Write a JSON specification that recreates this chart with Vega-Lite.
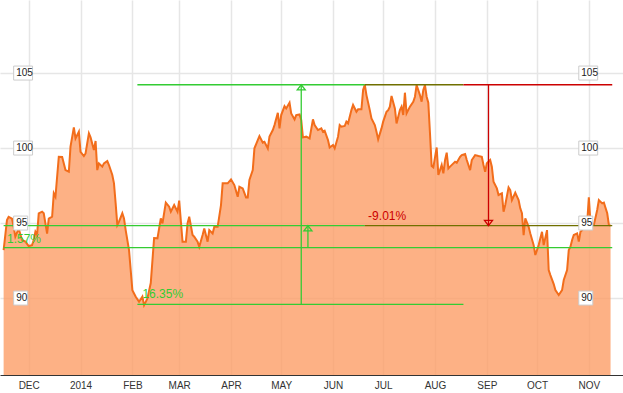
{
  "$schema": "https://vega.github.io/schema/vega-lite/v6.json",
  "width": 623,
  "height": 375,
  "autosize": {"type": "none"},
  "padding": {"top": 0, "left": 0, "right": 0, "bottom": 18},
  "config": {"view": {"stroke": null}, "font": "Liberation Sans"},
  "datasets": {
    "price": [
      {"d":"2013-11-16","v":93.2},{"d":"2013-11-18","v":95.2},{"d":"2013-11-19","v":95.42},{"d":"2013-11-21","v":95.3},{"d":"2013-11-22","v":94.75},{"d":"2013-11-23","v":94.1},{"d":"2013-11-25","v":94.64},{"d":"2013-11-27","v":93.87},{"d":"2013-11-29","v":93.76},
      {"d":"2013-12-01","v":93.47},{"d":"2013-12-03","v":93.53},{"d":"2013-12-04","v":93.87},{"d":"2013-12-05","v":94.42},{"d":"2013-12-06","v":94.2},{"d":"2013-12-07","v":95.65},{"d":"2013-12-09","v":95.76},{"d":"2013-12-10","v":95.65},{"d":"2013-12-12","v":94.3},{"d":"2013-12-13","v":95.3},{"d":"2013-12-15","v":95.42},{"d":"2013-12-16","v":96.98},{"d":"2013-12-17","v":96.75},{"d":"2013-12-19","v":99.42},{"d":"2013-12-21","v":99.4},{"d":"2013-12-23","v":98.53},{"d":"2013-12-25","v":98.42},{"d":"2013-12-26","v":100.09},{"d":"2013-12-28","v":101.38},{"d":"2013-12-29","v":100.64},{"d":"2013-12-31","v":101.09},
      {"d":"2014-01-01","v":99.75},{"d":"2014-01-03","v":99.47},{"d":"2014-01-04","v":99.64},{"d":"2014-01-06","v":100.98},{"d":"2014-01-07","v":100.71},{"d":"2014-01-09","v":99.87},{"d":"2014-01-10","v":100.47},{"d":"2014-01-11","v":98.53},{"d":"2014-01-12","v":98.98},{"d":"2014-01-14","v":98.76},{"d":"2014-01-15","v":98.98},{"d":"2014-01-17","v":99.13},{"d":"2014-01-18","v":98.87},{"d":"2014-01-20","v":98.2},{"d":"2014-01-21","v":97.65},{"d":"2014-01-22","v":96.31},{"d":"2014-01-23","v":94.87},{"d":"2014-01-24","v":95.09},{"d":"2014-01-26","v":95.65},{"d":"2014-01-27","v":95.31},{"d":"2014-01-28","v":94.53},{"d":"2014-01-30","v":93.2},{"d":"2014-01-31","v":91.87},
      {"d":"2014-02-01","v":90.53},{"d":"2014-02-03","v":90.09},{"d":"2014-02-05","v":89.75},{"d":"2014-02-07","v":90.09},{"d":"2014-02-08","v":89.53},{"d":"2014-02-10","v":89.98},{"d":"2014-02-12","v":91.0},{"d":"2014-02-14","v":94.0},{"d":"2014-02-16","v":93.98},{"d":"2014-02-18","v":95.31},{"d":"2014-02-19","v":94.98},{"d":"2014-02-21","v":96.36},{"d":"2014-02-23","v":96.09},{"d":"2014-02-24","v":95.76},{"d":"2014-02-26","v":96.2},{"d":"2014-02-28","v":95.76},
      {"d":"2014-03-01","v":96.49},{"d":"2014-03-03","v":93.76},{"d":"2014-03-05","v":93.76},{"d":"2014-03-06","v":94.98},{"d":"2014-03-07","v":95.42},{"d":"2014-03-09","v":94.2},{"d":"2014-03-10","v":94.09},{"d":"2014-03-12","v":93.76},{"d":"2014-03-13","v":93.42},{"d":"2014-03-15","v":94.2},{"d":"2014-03-16","v":94.64},{"d":"2014-03-18","v":93.76},{"d":"2014-03-19","v":94.53},{"d":"2014-03-21","v":94.3},{"d":"2014-03-22","v":94.75},{"d":"2014-03-24","v":94.75},{"d":"2014-03-26","v":96.2},{"d":"2014-03-27","v":97.65},{"d":"2014-03-30","v":97.65},
      {"d":"2014-04-01","v":97.91},{"d":"2014-04-03","v":97.53},{"d":"2014-04-05","v":96.75},{"d":"2014-04-06","v":97.42},{"d":"2014-04-08","v":97.31},{"d":"2014-04-10","v":96.71},{"d":"2014-04-11","v":96.71},{"d":"2014-04-12","v":97.87},{"d":"2014-04-14","v":98.53},{"d":"2014-04-15","v":99.98},{"d":"2014-04-17","v":100.53},{"d":"2014-04-18","v":100.8},{"d":"2014-04-20","v":100.36},{"d":"2014-04-21","v":100.42},{"d":"2014-04-23","v":99.98},{"d":"2014-04-24","v":100.76},{"d":"2014-04-26","v":101.2},{"d":"2014-04-27","v":101.53},{"d":"2014-04-29","v":102.35},{"d":"2014-04-30","v":101.31},
      {"d":"2014-05-01","v":102.2},{"d":"2014-05-03","v":102.8},{"d":"2014-05-04","v":102.64},{"d":"2014-05-06","v":103.02},{"d":"2014-05-07","v":102.31},{"d":"2014-05-09","v":101.91},{"d":"2014-05-10","v":102.2},{"d":"2014-05-12","v":102.24},{"d":"2014-05-13","v":101.87},{"d":"2014-05-14","v":100.71},{"d":"2014-05-16","v":100.76},{"d":"2014-05-18","v":100.64},{"d":"2014-05-20","v":101.91},{"d":"2014-05-21","v":101.53},{"d":"2014-05-23","v":101.2},{"d":"2014-05-25","v":101.31},{"d":"2014-05-26","v":101.09},{"d":"2014-05-27","v":101.16},{"d":"2014-05-29","v":100.53},{"d":"2014-05-30","v":100.04},
      {"d":"2014-06-01","v":100.2},{"d":"2014-06-02","v":99.98},{"d":"2014-06-04","v":100.76},{"d":"2014-06-05","v":101.53},{"d":"2014-06-06","v":101.42},{"d":"2014-06-08","v":101.47},{"d":"2014-06-09","v":101.76},{"d":"2014-06-10","v":101.64},{"d":"2014-06-12","v":102.53},{"d":"2014-06-13","v":102.87},{"d":"2014-06-15","v":102.42},{"d":"2014-06-16","v":102.58},{"d":"2014-06-18","v":102.58},{"d":"2014-06-19","v":103.87},{"d":"2014-06-20","v":104.22},{"d":"2014-06-21","v":103.53},{"d":"2014-06-23","v":102.53},{"d":"2014-06-24","v":101.98},{"d":"2014-06-26","v":101.53},{"d":"2014-06-27","v":101.09},{"d":"2014-06-28","v":100.58},{"d":"2014-06-30","v":101.31},
      {"d":"2014-07-01","v":101.76},{"d":"2014-07-03","v":102.42},{"d":"2014-07-04","v":102.53},{"d":"2014-07-05","v":102.76},{"d":"2014-07-06","v":103.47},{"d":"2014-07-08","v":102.64},{"d":"2014-07-09","v":101.64},{"d":"2014-07-11","v":102.53},{"d":"2014-07-12","v":102.76},{"d":"2014-07-13","v":102.2},{"d":"2014-07-14","v":103.69},{"d":"2014-07-15","v":102.31},{"d":"2014-07-17","v":102.76},{"d":"2014-07-19","v":103.09},{"d":"2014-07-20","v":103.42},{"d":"2014-07-21","v":104.2},{"d":"2014-07-23","v":103.53},{"d":"2014-07-24","v":103.09},{"d":"2014-07-25","v":103.87},{"d":"2014-07-26","v":104.2},{"d":"2014-07-27","v":103.42},{"d":"2014-07-28","v":103.02},{"d":"2014-07-29","v":100.98},{"d":"2014-07-30","v":98.8},{"d":"2014-07-31","v":98.71},
      {"d":"2014-08-02","v":100.04},{"d":"2014-08-03","v":98.2},{"d":"2014-08-04","v":98.53},{"d":"2014-08-05","v":98.87},{"d":"2014-08-06","v":98.31},{"d":"2014-08-07","v":99.2},{"d":"2014-08-08","v":99.69},{"d":"2014-08-09","v":98.64},{"d":"2014-08-10","v":98.76},{"d":"2014-08-12","v":98.98},{"d":"2014-08-13","v":99.09},{"d":"2014-08-14","v":99.02},{"d":"2014-08-16","v":99.42},{"d":"2014-08-17","v":99.53},{"d":"2014-08-19","v":99.6},{"d":"2014-08-20","v":99.2},{"d":"2014-08-22","v":98.53},{"d":"2014-08-23","v":99.2},{"d":"2014-08-25","v":99.53},{"d":"2014-08-27","v":99.47},{"d":"2014-08-29","v":99.42},{"d":"2014-08-30","v":98.87},{"d":"2014-08-31","v":98.42},
      {"d":"2014-09-01","v":98.98},{"d":"2014-09-03","v":99.2},{"d":"2014-09-04","v":98.76},{"d":"2014-09-05","v":97.75},{"d":"2014-09-07","v":97.31},{"d":"2014-09-08","v":96.87},{"d":"2014-09-10","v":96.98},{"d":"2014-09-11","v":95.76},{"d":"2014-09-12","v":96.2},{"d":"2014-09-14","v":97.38},{"d":"2014-09-15","v":97.2},{"d":"2014-09-16","v":96.53},{"d":"2014-09-18","v":97.02},{"d":"2014-09-20","v":96.53},{"d":"2014-09-21","v":95.98},{"d":"2014-09-22","v":95.65},{"d":"2014-09-23","v":94.2},{"d":"2014-09-24","v":95.31},{"d":"2014-09-26","v":94.75},{"d":"2014-09-27","v":94.31},{"d":"2014-09-29","v":93.53},{"d":"2014-09-30","v":92.87},
      {"d":"2014-10-02","v":93.53},{"d":"2014-10-03","v":93.98},{"d":"2014-10-04","v":94.42},{"d":"2014-10-05","v":93.53},{"d":"2014-10-07","v":94.53},{"d":"2014-10-08","v":91.87},{"d":"2014-10-09","v":91.53},{"d":"2014-10-11","v":90.93},{"d":"2014-10-12","v":90.53},{"d":"2014-10-14","v":90.2},{"d":"2014-10-16","v":90.53},{"d":"2014-10-17","v":91.2},{"d":"2014-10-19","v":91.87},{"d":"2014-10-20","v":93.2},{"d":"2014-10-21","v":93.42},{"d":"2014-10-22","v":93.87},{"d":"2014-10-23","v":94.2},{"d":"2014-10-25","v":94.31},{"d":"2014-10-26","v":93.76},{"d":"2014-10-27","v":94.42},{"d":"2014-10-28","v":94.53},{"d":"2014-10-30","v":94.87},{"d":"2014-10-31","v":94.98},
      {"d":"2014-11-01","v":96.71},{"d":"2014-11-02","v":94.98},{"d":"2014-11-03","v":94.87},{"d":"2014-11-04","v":94.87},{"d":"2014-11-06","v":95.87},{"d":"2014-11-07","v":96.53},{"d":"2014-11-09","v":96.31},{"d":"2014-11-10","v":96.36},{"d":"2014-11-12","v":95.65},{"d":"2014-11-13","v":94.87},{"d":"2014-11-14","v":94.83}
    ],
    "segs": [
      {"a":"2014-02-04","b":"2014-06-20","lo":104.22,"hi":104.22,"k":"g"},
      {"a":"2014-06-20","b":"2014-08-18","lo":104.22,"hi":104.22,"k":"o"},
      {"a":"2014-08-18","b":"2014-11-15","lo":104.22,"hi":104.22,"k":"r"},
      {"a":"2014-02-04","b":"2014-08-18","lo":89.58,"hi":89.58,"k":"g"},
      {"a":"2013-11-16","b":"2014-06-20","lo":94.83,"hi":94.83,"k":"g"},
      {"a":"2014-06-20","b":"2014-11-15","lo":94.83,"hi":94.83,"k":"o"},
      {"a":"2013-11-16","b":"2014-11-15","lo":93.36,"hi":93.36,"k":"g"},
      {"a":"2014-05-13","b":"2014-05-13","lo":89.58,"hi":104.22,"k":"g"},
      {"a":"2014-05-17","b":"2014-05-17","lo":93.36,"hi":94.83,"k":"g"},
      {"a":"2014-09-02","b":"2014-09-02","lo":94.83,"hi":104.22,"k":"r"}
    ],
    "heads": [
      {"a":"2014-05-13","y":104.22,"k":"g","dir":"u"},
      {"a":"2014-05-17","y":94.83,"k":"g","dir":"u"},
      {"a":"2014-09-02","y":94.83,"k":"r","dir":"d"}
    ],
    "notes": [
      {"a":"2013-11-18","y":93.95,"t":"1.57%","k":"g"},
      {"a":"2014-02-07","y":90.27,"t":"16.35%","k":"g"},
      {"a":"2014-06-22","y":95.47,"t":"-9.01%","k":"r"}
    ],
    "ylab": [{"v":90},{"v":95},{"v":100},{"v":105}]
  },
  "layer": [
    {
      "data": {"name": "price"},
      "mark": {"type": "area", "fill": "#fc9d66", "fillOpacity": 0.8, "line": {"color": "#f26d1b", "strokeWidth": 2}},
      "encoding": {
        "x": {"field": "d", "type": "temporal", "title": null,
          "scale": {"domain": [{"year":2013,"month":11,"date":13,"hours":20}, {"year":2014,"month":11,"date":21,"hours":10,"minutes":30}]},
          "axis": {"title": null, "ticks": false, "grid": true, "gridColor": "#e6e6e6", "gridWidth": 1.5,
            "domainColor": "#333333", "domainWidth": 1, "labelFontSize": 10, "labelColor": "#333333", "labelPadding": 5,
            "labelFlush": false, "labelOverlap": false,
            "values": [{"year":2013,"month":12,"date":1},{"year":2014,"month":1,"date":1},{"year":2014,"month":2,"date":1},{"year":2014,"month":3,"date":1},{"year":2014,"month":4,"date":1},{"year":2014,"month":5,"date":1},{"year":2014,"month":6,"date":1},{"year":2014,"month":7,"date":1},{"year":2014,"month":8,"date":1},{"year":2014,"month":9,"date":1},{"year":2014,"month":10,"date":1},{"year":2014,"month":11,"date":1}],
            "labelExpr": "month(datum.value) == 0 ? timeFormat(datum.value, '%Y') : upper(timeFormat(datum.value, '%b'))"}},
        "y": {"field": "v", "type": "quantitative", "title": null,
          "scale": {"domain": [84.87, 109.87], "zero": false, "nice": false},
          "axis": {"title": null, "labels": false, "ticks": false, "domain": false, "grid": true, "gridColor": "#e6e6e6", "gridWidth": 1.5, "values": [90, 95, 100, 105]}},
        "y2": {"datum": 84.87}
      }
    },
    {
      "data": {"name": "segs"},
      "mark": {"type": "rule", "strokeWidth": 1.3},
      "encoding": {
        "x": {"field": "a", "type": "temporal", "title": null},
        "x2": {"field": "b"},
        "y": {"field": "lo", "type": "quantitative", "title": null},
        "y2": {"field": "hi"},
        "color": {"field": "k", "type": "nominal", "scale": {"domain": ["g", "r", "o"], "range": ["#33cc33", "#cc0000", "#707000"]}, "legend": null}
      }
    },
    {
      "data": {"name": "heads"},
      "mark": {"type": "point", "filled": false, "strokeWidth": 1.3, "size": 16, "opacity": 1},
      "encoding": {
        "x": {"field": "a", "type": "temporal", "title": null},
        "y": {"field": "y", "type": "quantitative", "title": null},
        "shape": {"field": "dir", "type": "nominal", "scale": {"domain": ["u", "d"], "range": ["M0,0L2,2.6L-2,2.6Z", "M0,0L2,-2.6L-2,-2.6Z"]}, "legend": null},
        "color": {"field": "k", "type": "nominal", "legend": null}
      }
    },
    {
      "data": {"name": "notes"},
      "mark": {"type": "text", "align": "left", "baseline": "middle", "fontSize": 12, "font": "Liberation Sans"},
      "encoding": {
        "x": {"field": "a", "type": "temporal", "title": null},
        "y": {"field": "y", "type": "quantitative", "title": null},
        "text": {"field": "t"},
        "color": {"field": "k", "type": "nominal", "legend": null}
      }
    },
    {
      "data": {"name": "ylab"},
      "mark": {"type": "point", "filled": true, "fill": "white", "stroke": "#cccccc", "strokeWidth": 1, "size": 196, "opacity": 1},
      "encoding": {
        "x": {"datum": {"year": 2013, "month": 11, "date": 22}, "type": "temporal", "title": null},
        "y": {"field": "v", "type": "quantitative", "title": null},
        "shape": {"condition": {"test": "datum.v >= 100", "value": "M0,-1H2.7V1H0Z"}, "value": "M0,-1H2V1H0Z"}
      }
    },
    {
      "data": {"name": "ylab"},
      "mark": {"type": "text", "align": "left", "baseline": "middle", "fontSize": 10, "xOffset": 2.5, "color": "#222222", "font": "Liberation Sans"},
      "encoding": {
        "x": {"datum": {"year": 2013, "month": 11, "date": 22}, "type": "temporal", "title": null},
        "y": {"field": "v", "type": "quantitative", "title": null},
        "text": {"field": "v"}
      }
    },
    {
      "data": {"name": "ylab"},
      "mark": {"type": "point", "filled": true, "fill": "white", "stroke": "#cccccc", "strokeWidth": 1, "size": 196, "opacity": 1},
      "encoding": {
        "x": {"datum": {"year": 2014, "month": 10, "date": 26}, "type": "temporal", "title": null},
        "y": {"field": "v", "type": "quantitative", "title": null},
        "shape": {"condition": {"test": "datum.v >= 100", "value": "M0,-1H2.7V1H0Z"}, "value": "M0,-1H2V1H0Z"}
      }
    },
    {
      "data": {"name": "ylab"},
      "mark": {"type": "text", "align": "left", "baseline": "middle", "fontSize": 10, "xOffset": 2.5, "color": "#222222", "font": "Liberation Sans"},
      "encoding": {
        "x": {"datum": {"year": 2014, "month": 10, "date": 26}, "type": "temporal", "title": null},
        "y": {"field": "v", "type": "quantitative", "title": null},
        "text": {"field": "v"}
      }
    }
  ]
}
